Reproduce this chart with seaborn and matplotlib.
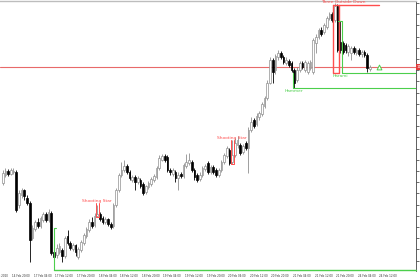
import matplotlib
matplotlib.use("Agg")
import matplotlib.pyplot as plt
import seaborn as sns
import pandas as pd

# Hourly OHLC (price units)
opens = [110.67, 110.75, 110.79, 110.76, 110.78, 110.78, 110.45, 110.55, 110.60, 110.52,
         110.47, 110.12, 110.21, 110.28, 110.24, 110.30, 110.36, 110.30, 110.37, 109.98,
         109.95, 109.98, 110.00, 109.94, 110.14, 110.07, 110.01, 110.05, 109.93, 110.00,
         110.07, 110.14, 110.20, 110.28, 110.25, 110.34, 110.36, 110.32, 110.28, 110.31,
         110.26, 110.24, 110.45, 110.60, 110.75, 110.80, 110.84, 110.78, 110.70, 110.73,
         110.68, 110.70, 110.66, 110.58, 110.63, 110.66, 110.70, 110.73, 110.82, 110.90,
         110.94, 110.93, 110.80, 110.76, 110.78, 110.72, 110.76, 110.74, 110.84, 110.87,
         110.88, 110.80, 110.75, 110.71, 110.75, 110.81, 110.87, 110.78, 110.83, 110.80,
         110.75, 110.80, 110.88, 110.94, 111.00, 110.88, 110.95, 111.05, 111.05, 110.98,
         111.07, 111.02, 111.20, 111.30, 111.26, 111.33, 111.36, 111.44, 111.52, 111.67,
         111.90, 111.80, 111.93, 111.97, 111.93, 111.87, 111.89, 111.87, 111.80, 111.70,
         111.80, 111.87, 111.80, 111.78, 111.82, 111.78, 112.07, 112.13, 112.20, 112.18,
         112.23, 112.32, 112.36, 112.30, 112.44, 112.08, 112.07, 112.05, 111.98, 111.97,
         112.02, 111.97, 112.00, 111.96, 111.98, 111.95, 111.81]
highs = [110.80, 110.82, 110.81, 110.82, 110.82, 110.80, 110.60, 110.62, 110.61, 110.55,
         110.49, 110.25, 110.30, 110.32, 110.34, 110.38, 110.38, 110.41, 110.39, 110.00,
         110.06, 110.07, 110.02, 110.14, 110.20, 110.09, 110.07, 110.06, 110.03, 110.10,
         110.17, 110.23, 110.31, 110.33, 110.37, 110.45, 110.38, 110.34, 110.33, 110.32,
         110.28, 110.47, 110.62, 110.77, 110.88, 110.90, 110.86, 110.80, 110.75, 110.75,
         110.74, 110.72, 110.68, 110.65, 110.69, 110.73, 110.76, 110.84, 110.95, 110.96,
         110.96, 110.95, 110.82, 110.82, 110.80, 110.78, 110.78, 110.87, 110.96, 110.97,
         110.90, 110.82, 110.77, 110.78, 110.84, 110.86, 110.89, 110.85, 110.85, 110.82,
         110.82, 110.90, 110.97, 111.04, 111.02, 111.10, 111.12, 111.14, 111.07, 111.06,
         111.09, 111.23, 111.33, 111.32, 111.37, 111.39, 111.48, 111.54, 111.70, 111.93,
         111.92, 111.96, 112.00, 111.99, 111.95, 111.93, 111.91, 111.89, 111.82, 111.83,
         111.89, 111.89, 111.90, 111.89, 111.90, 112.12, 112.16, 112.22, 112.23, 112.27,
         112.34, 112.38, 112.38, 112.47, 112.46, 112.29, 112.09, 112.07, 112.06, 112.04,
         112.04, 112.02, 112.02, 112.00, 112.00, 111.97, 111.85]
lows = [110.65, 110.73, 110.74, 110.75, 110.76, 110.38, 110.42, 110.52, 110.50, 110.45,
        109.88, 110.10, 110.19, 110.22, 110.22, 110.28, 110.28, 110.28, 109.95, 109.82,
        109.92, 109.96, 109.88, 109.92, 110.05, 110.00, 109.99, 109.94, 109.91, 109.98,
        110.05, 110.12, 110.18, 110.22, 110.23, 110.33, 110.29, 110.26, 110.26, 110.24,
        110.21, 110.22, 110.43, 110.58, 110.73, 110.78, 110.76, 110.70, 110.68, 110.60,
        110.66, 110.62, 110.55, 110.56, 110.61, 110.64, 110.68, 110.71, 110.80, 110.89,
        110.88, 110.78, 110.75, 110.74, 110.68, 110.60, 110.72, 110.72, 110.82, 110.85,
        110.78, 110.70, 110.68, 110.69, 110.73, 110.79, 110.76, 110.76, 110.76, 110.73,
        110.73, 110.78, 110.86, 110.92, 110.85, 110.86, 110.93, 111.02, 110.95, 110.96,
        111.00, 110.77, 111.18, 111.22, 111.24, 111.30, 111.34, 111.42, 111.50, 111.66,
        111.67, 111.76, 111.90, 111.91, 111.86, 111.85, 111.83, 111.78, 111.62, 111.68,
        111.78, 111.81, 111.78, 111.76, 111.80, 111.76, 111.97, 112.11, 112.14, 112.16,
        112.21, 112.30, 112.28, 112.28, 111.98, 111.97, 111.96, 111.97, 111.94, 111.90,
        111.96, 111.95, 111.94, 111.93, 111.93, 111.78, 111.79]
closes = [110.77, 110.79, 110.76, 110.80, 110.79, 110.40, 110.57, 110.60, 110.54, 110.47,
          110.10, 110.22, 110.28, 110.24, 110.32, 110.36, 110.30, 110.38, 109.97, 109.93,
          110.02, 110.04, 109.94, 110.12, 110.07, 110.02, 110.05, 109.98, 110.01, 110.08,
          110.15, 110.21, 110.28, 110.24, 110.34, 110.36, 110.31, 110.28, 110.31, 110.26,
          110.23, 110.45, 110.60, 110.75, 110.80, 110.84, 110.78, 110.72, 110.73, 110.68,
          110.72, 110.64, 110.57, 110.64, 110.67, 110.71, 110.74, 110.82, 110.92, 110.94,
          110.90, 110.80, 110.78, 110.80, 110.72, 110.75, 110.74, 110.85, 110.88, 110.90,
          110.80, 110.73, 110.70, 110.75, 110.82, 110.84, 110.78, 110.83, 110.78, 110.75,
          110.80, 110.88, 110.95, 111.02, 110.87, 110.95, 111.07, 111.10, 110.97, 111.04,
          111.02, 111.20, 111.28, 111.24, 111.34, 111.37, 111.46, 111.52, 111.67, 111.90,
          111.78, 111.94, 111.97, 111.93, 111.88, 111.90, 111.85, 111.80, 111.67, 111.80,
          111.87, 111.83, 111.88, 111.87, 111.88, 112.10, 112.13, 112.20, 112.16, 112.25,
          112.32, 112.36, 112.30, 112.44, 112.00, 112.00, 111.98, 112.00, 112.04, 112.02,
          111.98, 112.00, 111.96, 111.98, 111.95, 111.82, 111.83]

time_labels = ["14 Feb 2020", "14 Feb 20:00", "17 Feb 04:00", "17 Feb 12:00", "17 Feb 20:00",
               "18 Feb 04:00", "18 Feb 12:00", "18 Feb 20:00", "19 Feb 04:00", "19 Feb 12:00",
               "19 Feb 20:00", "20 Feb 04:00", "20 Feb 12:00", "20 Feb 20:00", "21 Feb 04:00",
               "21 Feb 12:00", "21 Feb 20:00", "24 Feb 04:00", "24 Feb 12:00"]
price_ticks = [112.470, 112.358, 112.246, 112.134, 112.022, 111.910, 111.798, 111.686,
               111.574, 111.462, 111.350, 111.238, 111.126, 111.014, 110.902, 110.790,
               110.678, 110.566, 110.454, 110.342, 110.230, 110.118, 110.006, 109.894]
bid_price = 111.83

# pattern markers: (label, bar index, low, high)
shooting_stars = [("Shooting Star", 35, 110.33, 110.47), ("Shooting Star", 85, 110.86, 111.10)]
three_outside = ("Three Outside Down", 123, 111.77, 112.45)
harami = ("Harami", 125, 111.77, 112.29)
hammer = ("Hammer", 108, 111.62, 111.77)
low_box = (19, 109.80, 110.22)

RED = "#ff4d4d"
GREEN = "#4ccf4c"

sns.set_theme(style="white")
fig = plt.figure(figsize=(4.2, 2.8), dpi=100)
ax = fig.add_axes([0, 9 / 280, 416 / 420, 270 / 280])
XMAX = -1 + 416 / 2.7
ax.set_xlim(-1, XMAX)
ax.set_ylim(109.79, 112.49)

df = pd.DataFrame({"o": opens, "h": highs, "l": lows, "c": closes})
df["i"] = range(len(df))
bull = df[df.c >= df.o]
bear = df[df.c < df.o]
ax.vlines(bull.i, bull.l, bull.h, color="#8f8f8f", lw=0.6, zorder=2)
ax.vlines(bear.i, bear.l, bear.h, color="black", lw=0.6, zorder=2)
ax.bar(bull.i, bull.c - bull.o, bottom=bull.o, width=0.62, color="white",
       edgecolor="#8f8f8f", lw=0.5, zorder=3)
ax.bar(bear.i, bear.o - bear.c, bottom=bear.c, width=0.62, color="black",
       edgecolor="black", lw=0.5, zorder=3)

# bid line and label
ax.axhline(bid_price, color="#e86a6a", lw=0.8, zorder=1)
ax.text(1.002, bid_price, "111.83", transform=ax.get_yaxis_transform(), fontsize=3,
        color="white", va="center", ha="left", clip_on=False,
        bbox=dict(boxstyle="square,pad=0.25", fc="#e23b3b", ec="none"))

# shooting star boxes
for lab, i, lo, hi in shooting_stars:
    ax.plot([i - 0.55, i - 0.55, i + 0.55, i + 0.55], [hi, lo, lo, hi], color=RED, lw=0.7, zorder=5)
    ax.text(i, hi + 0.005, lab, color=RED, fontsize=3.2, ha="center", va="bottom")

# three outside down
lab, i, lo, hi = three_outside
ax.plot([i - 0.7, i - 0.7, i + 1.55, i + 1.55], [hi, lo, lo, hi], color=RED, lw=1.0, zorder=5)
ax.plot([i - 0.7, i + 16.5], [hi, hi], color=RED, lw=1.0, zorder=5)
ax.text(i + 3, hi + 0.01, lab, color=RED, fontsize=3.2, ha="center", va="bottom")

# harami
lab, i, lo, hi = harami
ax.plot([i - 0.7, i + 0.7, i + 0.7], [hi, hi, lo], color=GREEN, lw=0.8, zorder=5)
ax.plot([i + 0.7, XMAX], [lo, lo], color=GREEN, lw=0.8, zorder=5)
ax.text(i, lo - 0.01, lab, color=GREEN, fontsize=3.2, ha="center", va="top")

# hammer
lab, i, lo, hi = hammer
ax.plot([i - 0.5, i - 0.5], [hi, lo], color=GREEN, lw=0.8, zorder=5)
ax.plot([i - 0.5, XMAX], [lo, lo], color=GREEN, lw=0.8, zorder=5)
ax.text(i, lo - 0.01, lab, color=GREEN, fontsize=3.2, ha="center", va="top")

# low box
i, lo, hi = low_box
ax.plot([i + 0.9, i - 0.1, i - 0.1], [hi, hi, lo], color=GREEN, lw=0.8, clip_on=False, zorder=5)
ax.plot([i - 0.1, XMAX], [lo, lo], color=GREEN, lw=1.0, clip_on=False, zorder=5)

# signal arrow after last bar
ax.scatter([len(df) + 2.5], [bid_price], marker="^", s=12, facecolor="white",
           edgecolor=GREEN, lw=0.7, zorder=6)

ax.yaxis.tick_right()
ax.set_yticks(price_ticks)
ax.set_yticklabels([f"{p:.3f}" for p in price_ticks], fontsize=3.2, color="#333")
ax.tick_params(axis="y", length=2, width=0.5, pad=1, colors="#333")

pos = [3 + 8 * k - 8 for k in range(len(time_labels))]
ax.set_xticks([p for p in pos if p >= -1])
ax.set_xticklabels([])
ax.tick_params(axis="x", length=1.5, width=0.4, colors="#333")
for p, lab in zip(pos, time_labels):
    ax.text(p + 0.5, -0.012, lab, transform=ax.get_xaxis_transform(), fontsize=2.0,
            color="#333", ha="left", va="top", clip_on=False)

for s in ["left", "bottom"]:
    ax.spines[s].set_visible(False)
ax.spines["top"].set_color("#bdbdbd")
ax.spines["top"].set_linewidth(1.0)
ax.spines["right"].set_color("#444")
ax.spines["right"].set_linewidth(0.6)
fig.savefig("out.png", dpi=100)
